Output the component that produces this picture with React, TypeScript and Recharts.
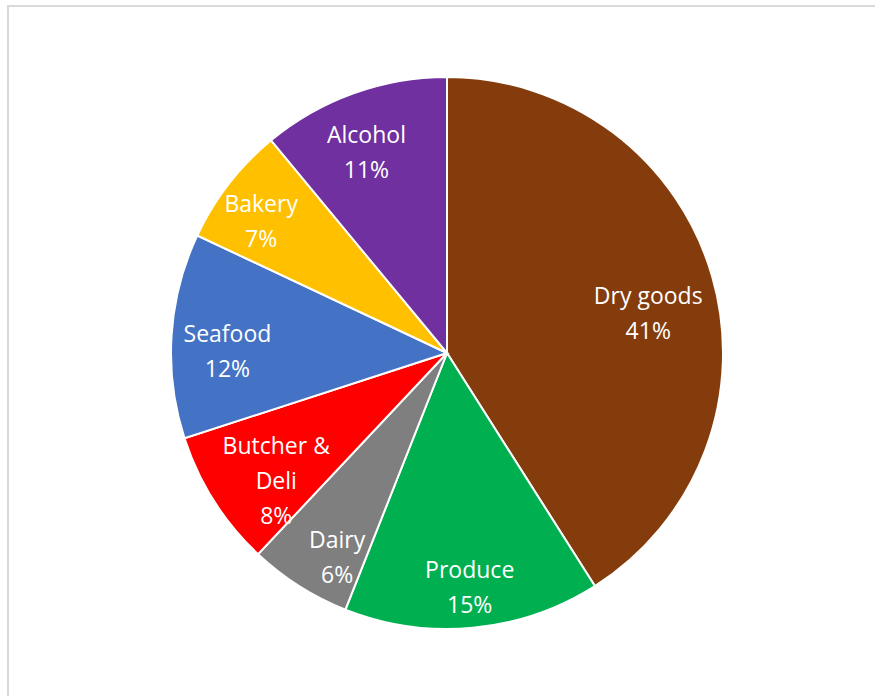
import { PieChart, Pie, Cell } from "recharts";

const categories = ["Dry goods", "Produce", "Dairy", "Butcher & Deli", "Seafood", "Bakery", "Alcohol"];
const shares = [41, 15, 6, 8, 12, 7, 11];
const colors = ["#843C0C", "#00B050", "#7F7F7F", "#FF0000", "#4472C4", "#FFC000", "#7030A0"];

// Excel wraps some labels onto two lines
const labelLines: { [key: string]: string[] } = {
	"Butcher & Deli": ["Butcher &", "Deli"],
};
// small nudges to mimic Excel's "best fit" placement
const labelNudge: { [key: string]: [number, number] } = {
	"Dry goods": [-10, 21],
	Produce: [2, 14],
	Dairy: [8, 18],
	"Butcher & Deli": [15, 9],
	Seafood: [0, 11],
	Bakery: [-12, 2],
	Alcohol: [-6, 5],
};

const data = categories.map((name, i) => ({ name, value: shares[i] }));

const RAD = Math.PI / 180;

function renderLabel(props: any) {
	const { cx, cy, midAngle, name, value } = props;
	const r = 220;
	const nudge = labelNudge[name] || [0, 0];
	const x = cx + r * Math.cos(-midAngle * RAD) + nudge[0];
	const y = cy + r * Math.sin(-midAngle * RAD) + nudge[1];
	const lines = [...(labelLines[name] || [name]), `${value}%`];
	const lh = 35;
	const top = y - ((lines.length - 1) * lh) / 2;
	return (
		<text x={x} y={top} fill="#fff" textAnchor="middle" dominantBaseline="central" fontSize={23} fontFamily="'Open Sans', sans-serif">
			{lines.map((l, i) => (
				<tspan key={i} x={x} y={top + i * lh}>
					{l}
				</tspan>
			))}
		</text>
	);
}

export default function App() {
	return (
		<div style={{ position: "fixed", left: 0, top: 0, width: 875, height: 696, overflow: "hidden", background: "#fff" }}>
			<div
				style={{
					position: "absolute",
					left: 7,
					top: 5,
					width: 920,
					height: 740,
					border: "2px solid #D9D9D9",
				}}
			/>
			<div style={{ position: "absolute", left: 0, top: 0 }}>
				<PieChart width={875} height={696} margin={{ top: 0, right: 0, bottom: 0, left: 0 }}>
					<Pie
						data={data}
						dataKey="value"
						nameKey="name"
						cx={447}
						cy={353}
						outerRadius={276}
						startAngle={90}
						endAngle={-270}
						stroke="#fff"
						strokeWidth={2}
						label={renderLabel}
						labelLine={false}
						isAnimationActive={false}
					>
						{data.map((entry, index) => (
							<Cell key={`cell-${index}`} fill={colors[index]} />
						))}
					</Pie>
				</PieChart>
			</div>
		</div>
	);
}
